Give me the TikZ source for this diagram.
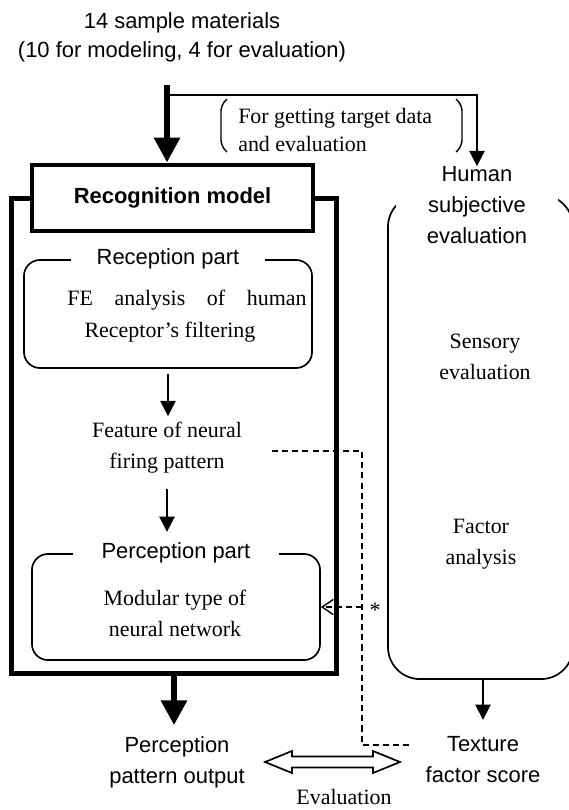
\documentclass[tikz,border=0pt]{standalone}
\usepackage{fontspec}
\setmainfont{Liberation Serif}
\setsansfont{Liberation Sans}
\usetikzlibrary{positioning, arrows.meta}

\begin{document}
\begin{tikzpicture}[
  x=0.025cm, y=-0.025cm,
  frame/.style={draw, line width=3.5pt, inner sep=0},
  partbox/.style={draw, line width=1.2pt, rounded corners=0.4cm, minimum width=7.2cm, inner sep=0},
  partlabel/.style={fill=white, font=\sffamily\fontsize{15.6}{22}\selectfont, inner ysep=0pt},
  sanstext/.style={font=\sffamily\fontsize{15.6}{22}\selectfont, align=center, inner sep=0},
  seriftext/.style={font=\rmfamily\fontsize{15.6}{22}\selectfont, align=center, inner sep=0},
  bigarrow/.style={line width=4.5pt, -{Triangle[length=0.62cm, width=0.62cm]}},
  thinarrow/.style={line width=1.3pt, -{Triangle[length=0.38cm, width=0.38cm]}},
  dashline/.style={line width=1pt, dash pattern=on 4.3pt off 2.9pt},
  parenline/.style={line width=1pt, rounded corners=0.15cm},
]
\useasboundingbox (0,0) rectangle (569,810);

% ==================== input ====================
\node[sanstext, font=\sffamily\fontsize{15.6}{20.6}\selectfont] (samples) at (182,37) {14 sample materials\\(10 for modeling, 4 for evaluation)};
\coordinate (feed) at (167,85);
\coordinate (split) at (167,95);

\node[seriftext, align=left, anchor=west, font=\rmfamily\fontsize{15.6}{20}\selectfont] (getnote) at (238,130) {For getting target data\\and evaluation};
\draw[parenline] (227,99) -- (221,105) -- (221,146) -- (227,152);
\draw[parenline] (456,99) -- (462,105) -- (462,146) -- (456,152);

% ==================== recognition model ====================
\node[frame, minimum width=8.1cm, minimum height=11.85cm] (modelframe) at (174,436) {};
\node[frame, fill=white, minimum width=7.025cm, minimum height=1.65cm, font=\sffamily\bfseries\fontsize{15.6}{22}\selectfont] (recog) at (172.5,198) {Recognition model};

% reception part
\node[partbox, minimum height=2.7cm] (recbox) at (168,314) {};
\node[partlabel, inner xsep=0.65cm] (reclabel) at (recbox.north) {Reception part};
\node[seriftext] (feline) at (187,300) {\makebox[5.975cm][s]{FE analysis of human}};
\node[seriftext] (filterline) at (170,332) {Receptor’s filtering};

\node[seriftext] (feature) at (167,448) {Feature of neural\\firing pattern};

% perception part
\node[partbox, minimum height=2.65cm] (percbox) at (176,607) {};
\node[partlabel, inner xsep=0.72cm] (perclabel) at (percbox.north) {Perception part};
\node[seriftext] (modular) at (175,613) {Modular type of\\neural network};

% ==================== human side ====================
\node[draw, line width=1.2pt, rounded corners=0.8cm, minimum width=4.625cm, minimum height=12.1cm] (subjbox) at (480.5,437) {};
\node[sanstext, fill=white, minimum width=4.05cm] (human) at (477,205) {Human\\subjective\\evaluation};
\node[seriftext] (sensory) at (485,357) {Sensory\\evaluation};
\node[seriftext] (factor) at (481,544) {Factor\\analysis};

% ==================== outputs ====================
\node[sanstext] (perout) at (177,762) {Perception\\pattern output};
\node[sanstext] (texture) at (483,760) {Texture\\factor score};
\node[seriftext] (evalnote) at (344,797) {Evaluation};
\node[seriftext] (star) at (375,610) {*};

% ==================== connectors ====================
\draw[bigarrow] (feed) -- (feed |- recog.north);
\draw[thinarrow] (split) -| (human.north);
\draw[thinarrow, shorten <=0.12cm, shorten >=0.15cm] (recbox.south) -- (recbox.south |- feature.north);
\draw[thinarrow, shorten <=0.38cm, shorten >=0.27cm] (feature.south) -- (feature.south |- perclabel.north);
\draw[bigarrow, shorten >=0.27cm] (modelframe.south) -- (modelframe.south |- perout.north);
\draw[thinarrow, shorten >=0.42cm] (texture.north |- subjbox.south) -- (texture.north);

\coordinate (tap) at (272,451);
\coordinate (dashturn) at (362,745);
\coordinate (dashend) at (412,745);
\coordinate (branch) at (362,607);
\draw[dashline] (tap) -| (dashturn) -- (dashend);
\draw[dashline, -{Straight Barb[length=0.28cm, width=0.38cm]}] (branch) -- (percbox.east);

\coordinate (evl) at (265,762);
\coordinate (evr) at (400,762);
\draw[line width=1.2pt, fill=white] (evl) -- ++(27,-11) -- ++(0,5.5) -- ++(81,0) -- ++(0,-5.5) -- (evr)
  -- ++(-27,11) -- ++(0,-5.5) -- ++(-81,0) -- ++(0,5.5) -- cycle;

\end{tikzpicture}
\end{document}
